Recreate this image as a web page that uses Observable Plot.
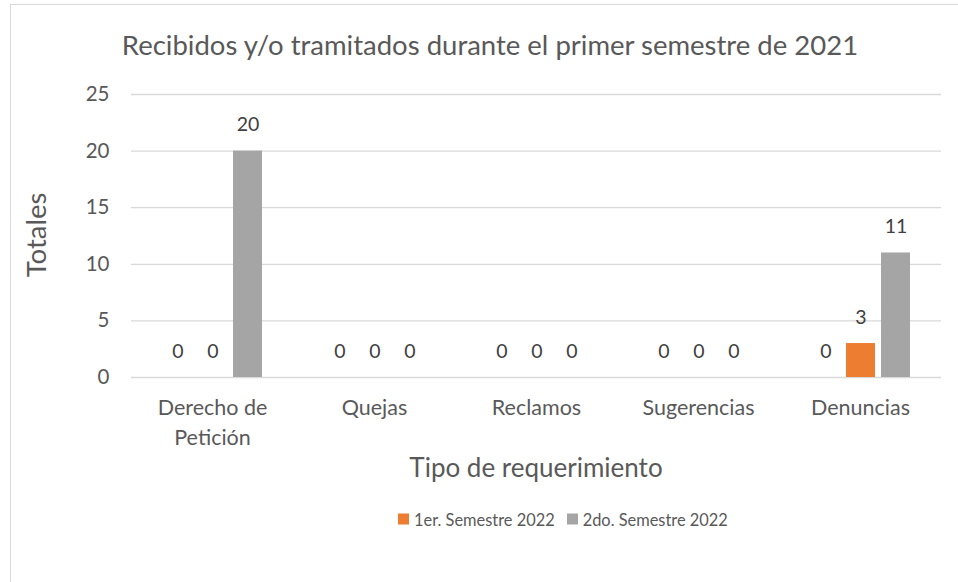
<!DOCTYPE html>
<html>
<head>
<meta charset="utf-8">
<script src="https://cdn.jsdelivr.net/npm/d3@7"></script>
<script src="https://cdn.jsdelivr.net/npm/@observablehq/plot@0.6"></script>
<style>
  html, body { margin: 0; padding: 0; background: #fff; }
  #chart { position: relative; width: 958px; height: 582px; overflow: hidden; font-family: Lato, sans-serif; color: #595959; }
  #frame { position: absolute; left: 10px; top: 4px; width: 960px; height: 600px; border-left: 1.5px solid #d9d9d9; border-top: 1.5px solid #d9d9d9; box-sizing: border-box; pointer-events: none; }
  #title { height: 80px; position: relative; }
  #title span { position: absolute; left: 490px; top: 44px; transform: translate(-50%, -50%); white-space: nowrap; font-size: 27.5px; }
  #ylabel { position: absolute; left: 35px; top: 235px; transform: translate(-50%, -50%) rotate(-90deg); font-size: 27.5px; white-space: nowrap; }
  #xlabel { position: absolute; left: 536px; top: 467px; transform: translate(-50%, -50%); font-size: 26px; white-space: nowrap; }
  #legend { position: absolute; left: 398px; top: 519px; transform: translateY(-50%); display: flex; align-items: center; font-size: 16.4px; white-space: nowrap; }
  #legend .sw { width: 11px; height: 11px; display: inline-block; margin-right: 5px; }
  #legend .item { display: flex; align-items: center; margin-right: 12px; }
  svg { display: block; }
</style>
</head>
<body>
<div id="chart">
  <div id="title"><span>Recibidos y/o tramitados durante el primer semestre de 2021</span></div>
  <div id="plot"></div>
  <div id="ylabel">Totales</div>
  <div id="xlabel">Tipo de requerimiento</div>
  <div id="legend"></div>
  <div id="frame"></div>
</div>
<script>
const categories = ["Derecho de Petición", "Quejas", "Reclamos", "Sugerencias", "Denuncias"];
const categoryLabels = ["Derecho de\nPetición", "Quejas", "Reclamos", "Sugerencias", "Denuncias"];
const seriesNames = ["Serie 1", "1er. Semestre 2022", "2do. Semestre 2022"];
const legendSeries = ["1er. Semestre 2022", "2do. Semestre 2022"];
const serie1 = [0, 0, 0, 0, 0];
const semestre1 = [0, 0, 0, 0, 3];
const semestre2 = [20, 0, 0, 0, 11];
const yTicks = [0, 5, 10, 15, 20, 25];
const colors = ["#4472C4", "#ED7D31", "#A5A5A5"];

const seriesValues = [serie1, semestre1, semestre2];
const data = [];
categories.forEach((c, i) => {
  seriesNames.forEach((s, j) => {
    data.push({category: c, series: s, value: seriesValues[j][i]});
  });
});
const labelOf = new Map(categories.map((c, i) => [c, categoryLabels[i]]));

const plot = Plot.plot({
  width: 958,
  height: 372,
  marginTop: 14,
  marginBottom: 75,
  marginLeft: 130,
  marginRight: 16,
  style: {fontFamily: "Lato, sans-serif", fontSize: "18px", color: "#595959", background: "transparent", overflow: "visible"},
  fx: {domain: categories, padding: 0, label: null, axis: null},
  x: {domain: seriesNames, axis: null, paddingInner: 0.18, paddingOuter: 0.877},
  y: {domain: [0, 25], axis: null},
  color: {domain: seriesNames, range: colors},
  facet: {data: data, x: "category"},
  marks: [
    Plot.ruleY(yTicks, {stroke: "#d9d9d9", strokeWidth: 1.3}),
    Plot.barY(data, {x: "series", y: "value", fill: "series"}),
    Plot.text(data, {x: "series", y: "value", text: d => String(d.value), dy: -26, fill: "#404040", fontSize: 19.5}),
    Plot.axisY({ticks: yTicks, tickSize: 0, tickPadding: 22, fontSize: 20.5, fill: "#595959", label: null, facetAnchor: "left"}),
    Plot.axisFx({anchor: "bottom", tickSize: 0, tickPadding: 17, lineHeight: 1.36, fontSize: 21.5, fill: "#595959", label: null, tickFormat: d => labelOf.get(d)})
  ]
});
document.getElementById("plot").appendChild(plot);

const legend = document.getElementById("legend");
legendSeries.forEach(s => {
  const item = document.createElement("div");
  item.className = "item";
  const sw = document.createElement("span");
  sw.className = "sw";
  sw.style.background = colors[seriesNames.indexOf(s)];
  const t = document.createElement("span");
  t.textContent = s;
  item.appendChild(sw);
  item.appendChild(t);
  legend.appendChild(item);
});
</script>
</body>
</html>
